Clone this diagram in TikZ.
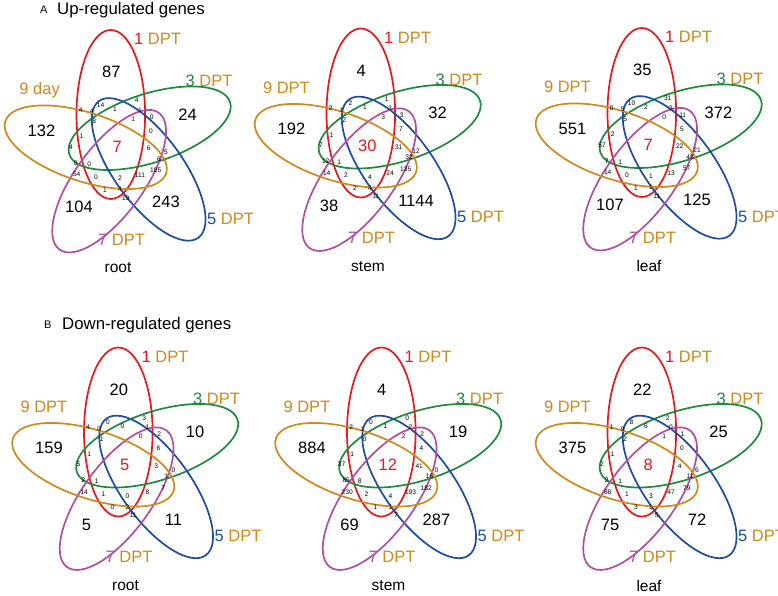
\documentclass[tikz,border=0pt]{standalone}
\usepackage{fontspec}
\setmainfont{Liberation Sans}
\definecolor{vred}{HTML}{E8171C}
\definecolor{vgreen}{HTML}{1E8A3E}
\definecolor{vblue}{HTML}{1F4BA3}
\definecolor{vpurple}{HTML}{B04FA0}
\definecolor{vorange}{HTML}{D0891A}
\tikzset{
  ell/.style={line width=1.7pt},
  bignum/.style={font=\fontsize{16.5}{18}\selectfont, inner sep=0pt},
  smallnum/.style={font=\fontsize{6.6}{7}\selectfont, inner sep=0pt},
  catlab/.style={font=\fontsize{16.5}{18}\selectfont, inner sep=0pt, text=vorange},
  tissue/.style={font=\fontsize{15.5}{17}\selectfont, inner sep=0pt},
  paneltitle/.style={font=\fontsize{16.8}{18}\selectfont, inner sep=0pt, anchor=base west},
  panelletter/.style={font=\fontsize{11}{12}\selectfont, inner sep=0pt, anchor=base west},
}
\newcommand\vennpoints{%
  \coordinate (p1) at (111.3,72);
  \coordinate (p2) at (187.5,114.5);
  \coordinate (p3) at (166,202);
  \coordinate (p4) at (79,207);
  \coordinate (p5) at (41.5,130.5);
  \coordinate (pc) at (117.3,147.3);
  \coordinate (q1) at (100.5,105);
  \coordinate (q2) at (136.7,100.5);
  \coordinate (q3) at (80.7,110);
  \coordinate (q4) at (91.7,111.5);
  \coordinate (q5) at (115,109);
  \coordinate (q6) at (140,110);
  \coordinate (q7) at (151.7,117);
  \coordinate (q8) at (94.3,121.5);
  \coordinate (q9) at (133.3,119);
  \coordinate (q10) at (151,131);
  \coordinate (q11) at (81.7,136.5);
  \coordinate (q12) at (71,147);
  \coordinate (q13) at (148.7,148.5);
  \coordinate (q14) at (166,152.5);
  \coordinate (q15) at (75.7,163);
  \coordinate (q16) at (89.3,164);
  \coordinate (q17) at (159,159);
  \coordinate (q18) at (155.7,170.5);
  \coordinate (q19) at (76.7,174.5);
  \coordinate (q20) at (96,177);
  \coordinate (q21) at (120,178.5);
  \coordinate (q22) at (140,175);
  \coordinate (q23) at (105,190);
  \coordinate (q24) at (120,189.5);
  \coordinate (q25) at (125.7,198);
}
% #1 name, #2 shift, #3 word after 9, #4 tissue, #5 single-set numbers, #6 centre number, #7 the 25 other numbers
\newcommand\venndiagram[7]{%
  \begin{scope}[shift={#2}]
    \vennpoints
    \coordinate (#1-C) at (120.8,148.1);
    \foreach \ang/\col in {0/vred,-72/vgreen,-144/vblue,-216/vpurple,-288/vorange}{
      \begin{scope}[shift={(120.8,148.1)}, rotate=\ang]
        \draw[ell,\col] (-10,-33.6) ellipse [x radius=34.3pt, y radius=84.5pt];
      \end{scope}
    }
    \node[catlab, anchor=base west] (#1-l1) at (134,44.5) {\textcolor{vred}{1} DPT};
    \node[catlab, anchor=base west] (#1-l3) at (185.5,86.5) {\textcolor{vgreen}{3} DPT};
    \node[catlab, anchor=base west] (#1-l5) at (207,224) {\textcolor{vblue}{5} DPT};
    \node[catlab, anchor=base west] (#1-l7) at (98,245) {\textcolor{vpurple}{7} DPT};
    \node[catlab, anchor=base east] (#1-l9) at (60,94.5) {9 #3};
    \node[tissue] (#1-t) at (118,268) {#4};
    \foreach \v [count=\i] in {#5} \node[bignum] (#1-s\i) at (p\i) {\v};
    \node[bignum, text=vred] (#1-c) at (pc) {#6};
    \foreach \v [count=\i] in {#7} \node[smallnum] (#1-q\i) at (q\i) {\v};
  \end{scope}
}
\begin{document}
\begin{tikzpicture}[x=1pt,y=-1pt]
\fill[white] (0,0) rectangle (778,595);
\useasboundingbox (0,0) rectangle (778,595);
\node[panelletter] (A) at (40,13) {A};
\node[paneltitle] (Atitle) at (57,14) {Up-regulated genes};
\node[panelletter] (B) at (44,328) {B};
\node[paneltitle] (Btitle) at (62,329) {Down-regulated genes};
\venndiagram{ur}{(0,0)}{day}{root}{87,24,243,104,132}{7}
  {14,4,4,4,1,1,0,8,1,0,1,4,6,5,0,0,6,105,54,0,2,111,1,4,19}
\venndiagram{us}{(250,-1.5)}{DPT}{stem}{4,32,1144,38,192}{30}
  {2,1,2,1,1,3,3,2,3,7,1,7,31,12,12,1,32,135,14,2,4,24,2,4,11}
\venndiagram{ul}{(531,-2)}{DPT}{leaf}{35,372,125,107,551}{7}
  {10,31,0,5,2,3,11,5,0,5,2,57,22,21,7,1,43,57,14,0,1,13,1,1,11}
\venndiagram{dr}{(7.5,317.5)}{DPT}{root}{20,10,11,5,159}{5}
  {0,3,4,0,0,1,2,1,0,6,1,5,3,0,2,1,1,7,14,1,0,8,0,2,11}
\venndiagram{ds}{(270.5,317.5)}{DPT}{stem}{4,19,287,69,884}{12}
  {0,0,2,1,1,2,2,0,2,4,1,37,41,0,85,8,16,182,230,2,4,193,1,1,7}
\venndiagram{dl}{(531,317.5)}{DPT}{leaf}{22,25,72,75,375}{8}
  {8,2,1,9,6,0,1,2,1,0,1,2,4,6,2,1,11,79,88,1,3,47,3,1,5}
\end{tikzpicture}
\end{document}
